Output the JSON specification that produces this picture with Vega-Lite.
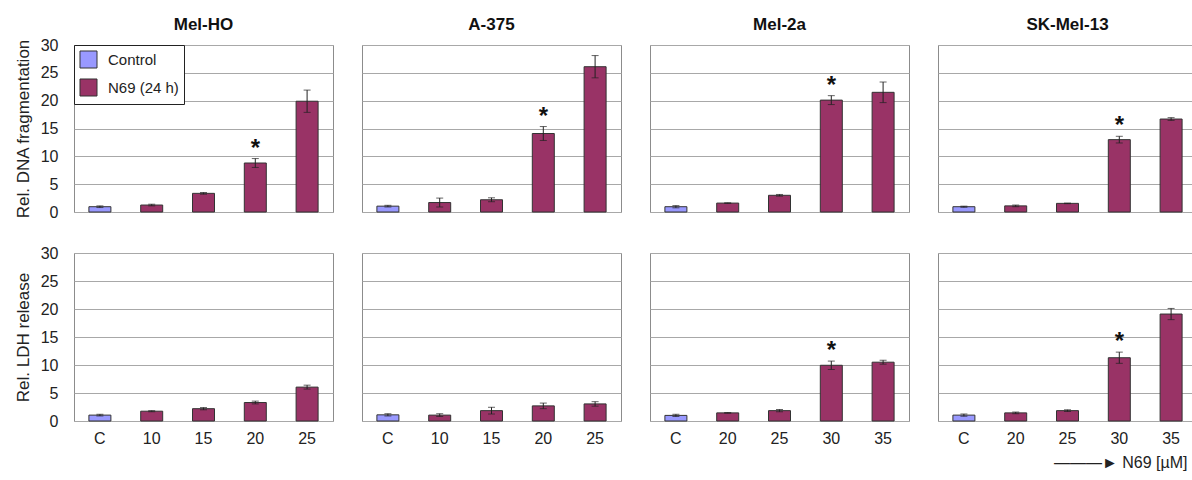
{
  "$schema": "https://vega.github.io/schema/vega-lite/v6.json",
  "padding": {"left": 14, "top": 16, "right": 0, "bottom": 4},
  "background": "white",
  "datasets": {
    "d": [
      {"measure": "DNA", "line": "Mel-HO", "dose": "C", "group": "Control", "value": 0.95, "err": 0.15, "sig": ""},
      {"measure": "DNA", "line": "Mel-HO", "dose": "10", "group": "N69 (24 h)", "value": 1.25, "err": 0.15, "sig": ""},
      {"measure": "DNA", "line": "Mel-HO", "dose": "15", "group": "N69 (24 h)", "value": 3.35, "err": 0.15, "sig": ""},
      {"measure": "DNA", "line": "Mel-HO", "dose": "20", "group": "N69 (24 h)", "value": 8.8, "err": 0.8, "sig": "*"},
      {"measure": "DNA", "line": "Mel-HO", "dose": "25", "group": "N69 (24 h)", "value": 19.9, "err": 2.0, "sig": ""},
      {"measure": "DNA", "line": "A-375", "dose": "C", "group": "Control", "value": 1.05, "err": 0.15, "sig": ""},
      {"measure": "DNA", "line": "A-375", "dose": "10", "group": "N69 (24 h)", "value": 1.7, "err": 0.8, "sig": ""},
      {"measure": "DNA", "line": "A-375", "dose": "15", "group": "N69 (24 h)", "value": 2.2, "err": 0.35, "sig": ""},
      {"measure": "DNA", "line": "A-375", "dose": "20", "group": "N69 (24 h)", "value": 14.1, "err": 1.25, "sig": "*"},
      {"measure": "DNA", "line": "A-375", "dose": "25", "group": "N69 (24 h)", "value": 26.1, "err": 2.0, "sig": ""},
      {"measure": "DNA", "line": "Mel-2a", "dose": "C", "group": "Control", "value": 0.95, "err": 0.2, "sig": ""},
      {"measure": "DNA", "line": "Mel-2a", "dose": "20", "group": "N69 (24 h)", "value": 1.6, "err": 0.05, "sig": ""},
      {"measure": "DNA", "line": "Mel-2a", "dose": "25", "group": "N69 (24 h)", "value": 3.0, "err": 0.15, "sig": ""},
      {"measure": "DNA", "line": "Mel-2a", "dose": "30", "group": "N69 (24 h)", "value": 20.1, "err": 0.8, "sig": "*"},
      {"measure": "DNA", "line": "Mel-2a", "dose": "35", "group": "N69 (24 h)", "value": 21.5, "err": 1.85, "sig": ""},
      {"measure": "DNA", "line": "SK-Mel-13", "dose": "C", "group": "Control", "value": 0.95, "err": 0.1, "sig": ""},
      {"measure": "DNA", "line": "SK-Mel-13", "dose": "20", "group": "N69 (24 h)", "value": 1.1, "err": 0.15, "sig": ""},
      {"measure": "DNA", "line": "SK-Mel-13", "dose": "25", "group": "N69 (24 h)", "value": 1.55, "err": 0.05, "sig": ""},
      {"measure": "DNA", "line": "SK-Mel-13", "dose": "30", "group": "N69 (24 h)", "value": 13.0, "err": 0.6, "sig": "*"},
      {"measure": "DNA", "line": "SK-Mel-13", "dose": "35", "group": "N69 (24 h)", "value": 16.7, "err": 0.25, "sig": ""},
      {"measure": "LDH", "line": "Mel-HO", "dose": "C", "group": "Control", "value": 1.05, "err": 0.15, "sig": ""},
      {"measure": "LDH", "line": "Mel-HO", "dose": "10", "group": "N69 (24 h)", "value": 1.75, "err": 0.1, "sig": ""},
      {"measure": "LDH", "line": "Mel-HO", "dose": "15", "group": "N69 (24 h)", "value": 2.2, "err": 0.2, "sig": ""},
      {"measure": "LDH", "line": "Mel-HO", "dose": "20", "group": "N69 (24 h)", "value": 3.3, "err": 0.25, "sig": ""},
      {"measure": "LDH", "line": "Mel-HO", "dose": "25", "group": "N69 (24 h)", "value": 6.05, "err": 0.35, "sig": ""},
      {"measure": "LDH", "line": "A-375", "dose": "C", "group": "Control", "value": 1.1, "err": 0.2, "sig": ""},
      {"measure": "LDH", "line": "A-375", "dose": "10", "group": "N69 (24 h)", "value": 1.05, "err": 0.25, "sig": ""},
      {"measure": "LDH", "line": "A-375", "dose": "15", "group": "N69 (24 h)", "value": 1.85, "err": 0.6, "sig": ""},
      {"measure": "LDH", "line": "A-375", "dose": "20", "group": "N69 (24 h)", "value": 2.7, "err": 0.5, "sig": ""},
      {"measure": "LDH", "line": "A-375", "dose": "25", "group": "N69 (24 h)", "value": 3.05, "err": 0.4, "sig": ""},
      {"measure": "LDH", "line": "Mel-2a", "dose": "C", "group": "Control", "value": 1.0, "err": 0.2, "sig": ""},
      {"measure": "LDH", "line": "Mel-2a", "dose": "20", "group": "N69 (24 h)", "value": 1.45, "err": 0.05, "sig": ""},
      {"measure": "LDH", "line": "Mel-2a", "dose": "25", "group": "N69 (24 h)", "value": 1.85, "err": 0.2, "sig": ""},
      {"measure": "LDH", "line": "Mel-2a", "dose": "30", "group": "N69 (24 h)", "value": 9.95, "err": 0.75, "sig": "*"},
      {"measure": "LDH", "line": "Mel-2a", "dose": "35", "group": "N69 (24 h)", "value": 10.5, "err": 0.35, "sig": ""},
      {"measure": "LDH", "line": "SK-Mel-13", "dose": "C", "group": "Control", "value": 1.05, "err": 0.2, "sig": ""},
      {"measure": "LDH", "line": "SK-Mel-13", "dose": "20", "group": "N69 (24 h)", "value": 1.45, "err": 0.15, "sig": ""},
      {"measure": "LDH", "line": "SK-Mel-13", "dose": "25", "group": "N69 (24 h)", "value": 1.85, "err": 0.15, "sig": ""},
      {"measure": "LDH", "line": "SK-Mel-13", "dose": "30", "group": "N69 (24 h)", "value": 11.3, "err": 1.0, "sig": "*"},
      {"measure": "LDH", "line": "SK-Mel-13", "dose": "35", "group": "N69 (24 h)", "value": 19.1, "err": 1.0, "sig": ""}
    ]
  },
  "config": {
    "font": "Liberation Sans",
    "view": {"stroke": "#8c8c8c", "strokeWidth": 1},
    "axis": {"labelFont": "Liberation Sans", "titleFont": "Liberation Sans", "labelColor": "#222", "titleColor": "#222", "titleFontWeight": "normal"},
    "axisY": {"domain": false, "ticks": false, "grid": true, "gridColor": "#a8a8a8", "labelFontSize": 16, "titleFontSize": 17, "labelPadding": 15, "titlePadding": 8, "values": [0, 5, 10, 15, 20, 25, 30]},
    "axisX": {"domain": false, "ticks": false, "grid": false, "labelAngle": 0, "labelFontSize": 16, "labelPadding": 9},
    "legend": {"labelFont": "Liberation Sans"},
    "title": {"font": "Liberation Sans"}
  },
  "title": {"text": "———► N69 [µM]", "orient": "bottom", "anchor": "end", "fontSize": 16, "fontWeight": "normal", "color": "#222", "offset": 8, "dx": -10},
  "spacing": 25,
  "vconcat": [
    {
      "data": {"name": "d"},
      "transform": [{"filter": "datum.measure == 'DNA'"}, {"calculate": "datum.value + datum.err", "as": "hi"}],
      "facet": {"column": {"field": "line", "sort": ["Mel-HO", "A-375", "Mel-2a", "SK-Mel-13"], "title": null, "header": {"labelFontSize": 17, "labelFontWeight": "bold", "labelFont": "Liberation Sans", "labelColor": "#111", "labelPadding": 10}}},
      "spacing": 27,
      "resolve": {"scale": {"x": "independent"}},
      "spec": {
        "width": 259,
        "height": 167,
        "layer": [
          {
            "mark": {"type": "bar", "size": 22, "stroke": "#333", "strokeWidth": 1},
            "encoding": {
              "x": {"field": "dose", "type": "nominal", "sort": ["C", "10", "15", "20", "25", "30", "35"], "scale": {"paddingInner": 0, "paddingOuter": 0}, "axis": {"labels": false, "title": null}},
              "y": {"field": "value", "type": "quantitative", "scale": {"domain": [0, 30], "nice": false}, "title": "Rel. DNA fragmentation"},
              "color": {"field": "group", "type": "nominal", "scale": {"domain": ["Control", "N69 (24 h)"], "range": ["#9999FF", "#993366"]},
                "legend": {"title": null, "orient": "none", "legendX": 0, "legendY": 0, "symbolType": "square", "symbolSize": 290, "symbolStrokeColor": "#333", "symbolStrokeWidth": 1, "symbolOpacity": 1, "labelFontSize": 15, "labelColor": "#222", "rowPadding": 5, "strokeColor": "#222", "fillColor": "white", "padding": 5, "labelOffset": 10}}
            }
          },
          {
            "mark": {"type": "errorbar", "color": "#222", "ticks": {"size": 7, "color": "#222"}, "rule": {"strokeWidth": 1}},
            "encoding": {
              "x": {"field": "dose", "type": "nominal", "sort": ["C", "10", "15", "20", "25", "30", "35"]},
              "y": {"field": "value", "type": "quantitative", "title": "Rel. DNA fragmentation"},
              "yError": {"field": "err"}
            }
          },
          {
            "transform": [{"filter": "datum.sig == '*'"}],
            "mark": {"type": "text", "fontSize": 24, "fontWeight": "bold", "baseline": "bottom", "dy": 2, "color": "#111"},
            "encoding": {
              "x": {"field": "dose", "type": "nominal", "sort": ["C", "10", "15", "20", "25", "30", "35"]},
              "y": {"field": "hi", "type": "quantitative", "title": "Rel. DNA fragmentation"},
              "text": {"field": "sig"}
            }
          }
        ]
      }
    },
    {
      "data": {"name": "d"},
      "transform": [{"filter": "datum.measure == 'LDH'"}, {"calculate": "datum.value + datum.err", "as": "hi"}],
      "facet": {"column": {"field": "line", "sort": ["Mel-HO", "A-375", "Mel-2a", "SK-Mel-13"], "title": null, "header": {"labels": false}}},
      "spacing": 27,
      "resolve": {"scale": {"x": "independent"}},
      "spec": {
        "width": 259,
        "height": 168,
        "layer": [
          {
            "mark": {"type": "bar", "size": 22, "stroke": "#333", "strokeWidth": 1},
            "encoding": {
              "x": {"field": "dose", "type": "nominal", "sort": ["C", "10", "15", "20", "25", "30", "35"], "scale": {"paddingInner": 0, "paddingOuter": 0}, "axis": {"title": null}},
              "y": {"field": "value", "type": "quantitative", "scale": {"domain": [0, 30], "nice": false}, "title": "Rel. LDH release"},
              "color": {"field": "group", "type": "nominal", "scale": {"domain": ["Control", "N69 (24 h)"], "range": ["#9999FF", "#993366"]}, "legend": null}
            }
          },
          {
            "mark": {"type": "errorbar", "color": "#222", "ticks": {"size": 7, "color": "#222"}, "rule": {"strokeWidth": 1}},
            "encoding": {
              "x": {"field": "dose", "type": "nominal", "sort": ["C", "10", "15", "20", "25", "30", "35"]},
              "y": {"field": "value", "type": "quantitative", "title": "Rel. LDH release"},
              "yError": {"field": "err"}
            }
          },
          {
            "transform": [{"filter": "datum.sig == '*'"}],
            "mark": {"type": "text", "fontSize": 24, "fontWeight": "bold", "baseline": "bottom", "dy": 2, "color": "#111"},
            "encoding": {
              "x": {"field": "dose", "type": "nominal", "sort": ["C", "10", "15", "20", "25", "30", "35"]},
              "y": {"field": "hi", "type": "quantitative", "title": "Rel. LDH release"},
              "text": {"field": "sig"}
            }
          }
        ]
      }
    }
  ]
}
